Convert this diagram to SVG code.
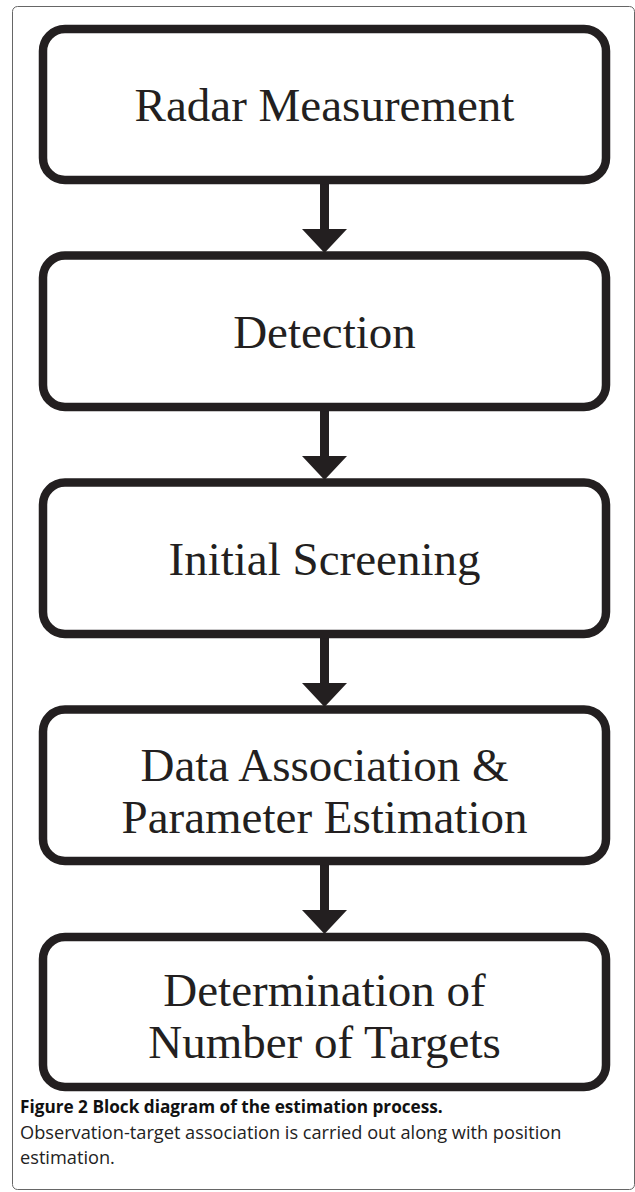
<svg xmlns="http://www.w3.org/2000/svg" width="635" height="1192" viewBox="0 0 635 1192">
<defs>
<style>
.frame{fill:none;stroke:#666;stroke-width:1}
.box{fill:#fff;stroke:#231f20;stroke-width:8.5}
.lbl{font-family:"Liberation Serif","Times New Roman",serif;font-size:47px;fill:#231f20;text-anchor:middle}
.stem{stroke:#231f20;stroke-width:9;fill:none}
.head{fill:#231f20}
.capb{font-family:"Open Sans","Liberation Sans",sans-serif;font-weight:bold;font-size:17.2px;fill:#111}
.cap{font-family:"Open Sans","Liberation Sans",sans-serif;font-size:18.2px;fill:#222}
</style>
</defs>
<rect width="635" height="1192" fill="#fff"/>
<rect class="frame" x="12.5" y="6.5" width="622" height="1183" rx="5"/>
<g id="connectors">
<line class="stem" x1="324.5" y1="184" x2="324.5" y2="230"/>
<polygon class="head" points="302,229 347,229 324.5,253"/>
<line class="stem" x1="324.5" y1="411" x2="324.5" y2="457"/>
<polygon class="head" points="302,456 347,456 324.5,480"/>
<line class="stem" x1="324.5" y1="638" x2="324.5" y2="684"/>
<polygon class="head" points="302,683 347,683 324.5,707"/>
<line class="stem" x1="324.5" y1="865" x2="324.5" y2="911"/>
<polygon class="head" points="302,910 347,910 324.5,934"/>
</g>
<g id="n1">
<rect class="box" x="43" y="29" width="563" height="151" rx="22"/>
<text class="lbl" x="324.5" y="121">Radar Measurement</text>
</g>
<g id="n2">
<rect class="box" x="43" y="255.5" width="563" height="151.5" rx="22"/>
<text class="lbl" x="324.5" y="348">Detection</text>
</g>
<g id="n3">
<rect class="box" x="43" y="482.5" width="563" height="151.5" rx="22"/>
<text class="lbl" x="324.5" y="575">Initial Screening</text>
</g>
<g id="n4">
<rect class="box" x="43" y="709.5" width="563" height="151.5" rx="22"/>
<text class="lbl" x="324.5" y="781">Data Association &amp;</text>
<text class="lbl" x="324.5" y="833">Parameter Estimation</text>
</g>
<g id="n5">
<rect class="box" x="43" y="937" width="563" height="150" rx="22"/>
<text class="lbl" x="324.5" y="1006">Determination of</text>
<text class="lbl" x="324.5" y="1058">Number of Targets</text>
</g>
<g id="caption">
<text class="capb" x="20" y="1113">Figure 2 Block diagram of the estimation process.</text>
<text class="cap" x="20" y="1139">Observation-target association is carried out along with position</text>
<text class="cap" x="20" y="1164">estimation.</text>
</g>
</svg>
